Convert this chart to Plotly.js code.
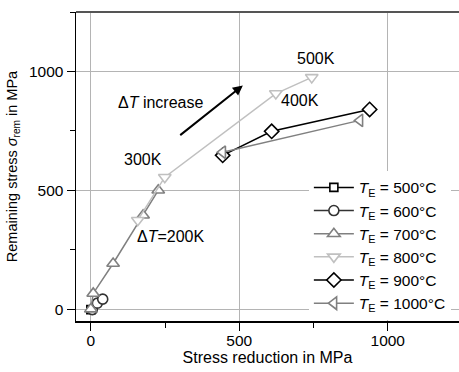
<!DOCTYPE html>
<html><head><meta charset="utf-8">
<script src="https://cdn.plot.ly/plotly-3.0.1.min.js"></script>
<style>html,body{margin:0;padding:0;overflow:hidden;background:#fff}</style>
</head><body><div id="chart" style="width:459px;height:372px"></div>
<script>
// Data (stress reduction in MPa, remaining stress in MPa)
const seriesNames = ["500°C","600°C","700°C","800°C","900°C","1000°C"];
const t500x = [0];                 const t500y = [-2];
const t600x = [5, 22, 40];         const t600y = [-2, 25, 42];
const t700x = [0, 8, 75, 176, 227];  const t700y = [0, 66, 192, 395, 500];
const t800x = [158, 249, 623, 744]; const t800y = [374, 555, 907, 975];
const t900x = [444, 609, 939];     const t900y = [647, 748, 840];
const t1000x = [444, 906];         const t1000y = [660, 794];
const xTicks = [0, 500, 1000];
const yTicks = [0, 500, 1000];
const labels = [
  {x: 758, y: 1055, t: "500K"},
  {x: 704, y: 878, t: "400K"},
  {x: 175, y: 630, t: "300K"},
  {x: 269, y: 307, t: "Δ<i>T</i>=200K"},
  {x: 236, y: 870, t: "Δ<i>T</i> increase"}
];
const arrowFrom = [296, 727], arrowTo = [512, 941];

const FONT = "Arial, 'Liberation Sans', sans-serif";
function tr(x, y, name, sym, col, size) {
  return {x: x, y: y, name: "<i>T</i><sub>E</sub> = " + name, type: "scatter", mode: "lines+markers",
    line: {color: col, width: 1.5},
    marker: {symbol: sym, size: size, color: "white", line: {color: col, width: 1.6}}};
}
const data = [
  tr(t500x, t500y, seriesNames[0], "square", "#000000", 8),
  tr(t600x, t600y, seriesNames[1], "circle", "#333333", 10),
  tr(t700x, t700y, seriesNames[2], "triangle-up", "#808080", 11),
  tr(t800x, t800y, seriesNames[3], "triangle-down", "#c0c0c0", 11),
  tr(t900x, t900y, seriesNames[4], "diamond", "#000000", 11),
  tr(t1000x, t1000y, seriesNames[5], "triangle-left", "#808080", 11)
];
const ann = labels.map(l => ({x: l.x, y: l.y, xref: "x", yref: "y", text: l.t, showarrow: false,
  font: {family: FONT, size: 16, color: "#000"}}));
ann.push({x: arrowTo[0], y: arrowTo[1], ax: arrowFrom[0], ay: arrowFrom[1], axref: "x", ayref: "y",
  xref: "x", yref: "y", text: "", showarrow: true, arrowhead: 2, arrowsize: 1, arrowwidth: 2, arrowcolor: "#000"});
const axisCommon = {
  showgrid: true, gridcolor: "#b4b4b4", gridwidth: 1, zeroline: false,
  showline: true, linecolor: "#000", linewidth: 1.5,
  ticks: "outside", ticklen: 8, tickwidth: 1, tickcolor: "#000",
  tickfont: {family: FONT, size: 15.5, color: "#000"},
  minor: {ticks: "outside", ticklen: 5, tickwidth: 1, tickcolor: "#000", dtick: 250, showgrid: false}
};
const layout = {
  width: 459, height: 372,
  margin: {l: 76, r: 0, t: 12, b: 51},
  paper_bgcolor: "#fff", plot_bgcolor: "#fff",
  font: {family: FONT, size: 16, color: "#000"},
  xaxis: Object.assign({}, axisCommon, {range: [-50, 1240], tickmode: "array", tickvals: xTicks,
    ticklabelstandoff: -3,
    title: {text: "Stress reduction in MPa", font: {family: FONT, size: 16}, standoff: 0}}),
  yaxis: Object.assign({}, axisCommon, {range: [-50, 1250], tickmode: "array", tickvals: yTicks,
    title: {text: "Remaining stress <i>σ</i><sub>rem</sub> in MPa", font: {family: FONT, size: 14.5}, standoff: 8}}),
  showlegend: true,
  legend: {x: 0.608, y: 0.486, xanchor: "left", yanchor: "top", bgcolor: "#fff", borderwidth: 0,
    font: {family: FONT, size: 15.5, color: "#000"}, itemwidth: 40, tracegroupgap: 0},
  shapes: [{type: "line", xref: "paper", yref: "paper", x0: 0, x1: 1, y0: 1, y1: 1,
    line: {color: "#555", width: 2}}],
  annotations: ann
};
Plotly.newPlot("chart", data, layout, {displayModeBar: false, staticPlot: true});
</script></body></html>
